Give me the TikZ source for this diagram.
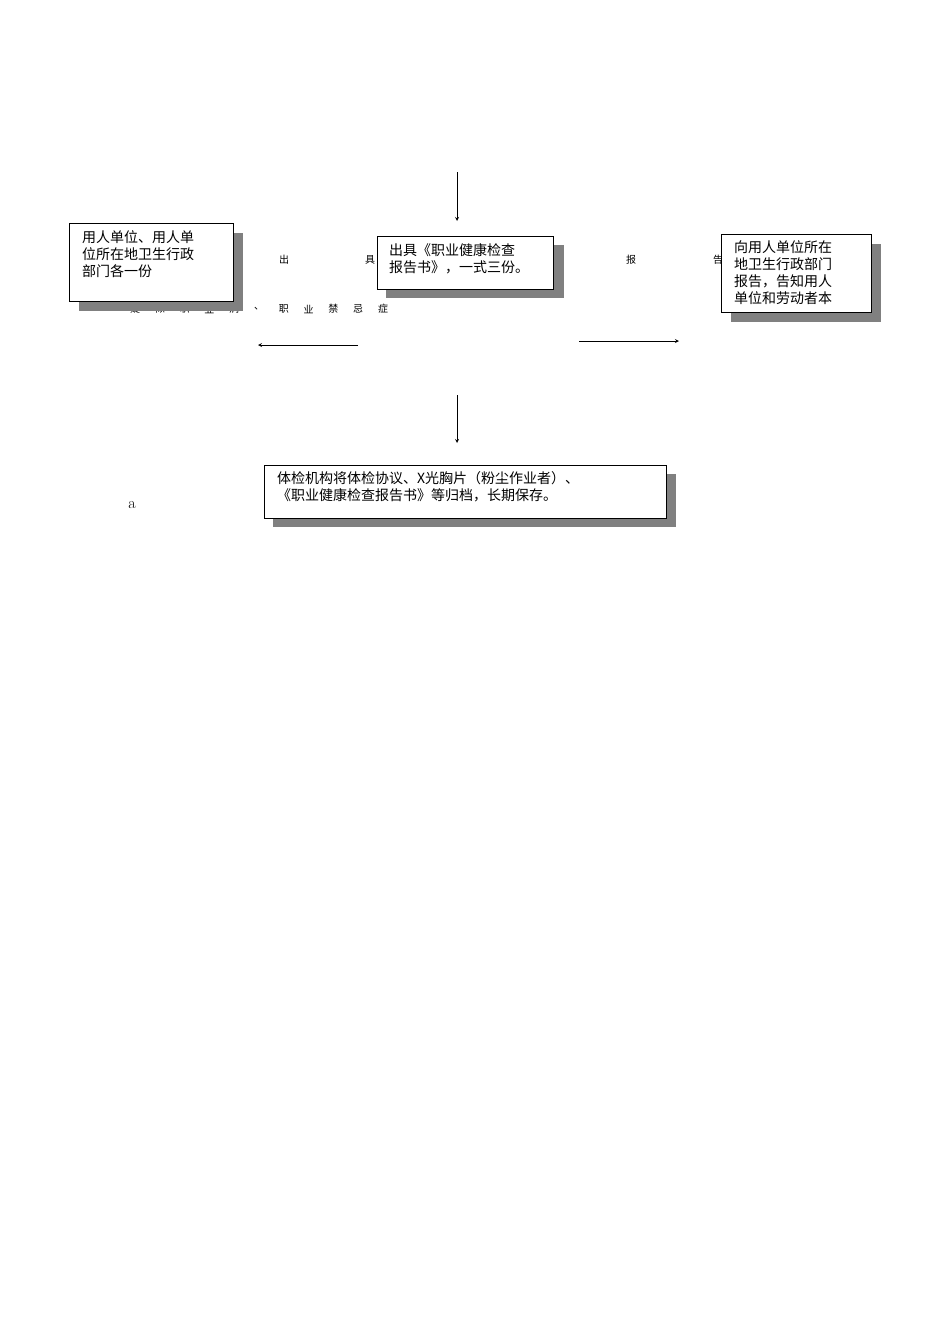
\documentclass[tikz,border=0pt]{standalone}
\usepackage{fontspec}
\newfontfamily\cjk{Noto Sans CJK SC}
\begin{document}
\begin{tikzpicture}[x=1pt,y=-1pt,
  shadowbox/.style={fill=black!50,draw=none},
  mainbox/.style={fill=white,draw=black,line width=0.8pt},
  boxtext/.style={font=\cjk\fontsize{14}{17}\selectfont,align=left,inner sep=0pt,anchor=north west},
  faint/.style={font=\cjk\fontsize{10}{12}\selectfont,inner sep=0pt},
  arr/.style={-stealth,line width=0.8pt}]
\useasboundingbox (0,0) rectangle (950,1344);
% scattered background text
\node[faint] (t1) at (284,260) {出};
\node[faint] (t2) at (370,260) {具};
\node[faint] (t3) at (631,260) {报};
\node[faint] (t4) at (718,260) {告};
\foreach \ch [count=\i from 0] in {疑,似,职,业,病,、,职,业,禁,忌,症}
  \node[faint] (r\i) at (135+24.8*\i,309) {\ch};
% left box
\fill[shadowbox] (79,233) rectangle (243,311);
\draw[mainbox] (69,223) rectangle (233,301);
\node[boxtext] (lt) at (82,230) {用人单位、用人单\\位所在地卫生行政\\部门各一份};
% center box
\fill[shadowbox] (386,245) rectangle (564,298);
\draw[mainbox] (377,236) rectangle (553,289);
\node[boxtext] (ct) at (389,243) {出具《职业健康检查\\报告书》，一式三份。};
% right box
\fill[shadowbox] (731,244) rectangle (881,322);
\draw[mainbox] (721,234) rectangle (871,312);
\begin{scope}
\clip (722,235) rectangle (870,308);
\node[boxtext] (rt) at (734,240) {向用人单位所在\\地卫生行政部门\\报告，告知用人\\单位和劳动者本};
\end{scope}
% bottom box
\fill[shadowbox] (273,474) rectangle (676,527);
\draw[mainbox] (264,465) rectangle (666,518);
\node[boxtext] (bt) at (277,471) {体检机构将体检协议、X光胸片（粉尘作业者）、\\《职业健康检查报告书》等归档，长期保存。};
% arrows
\coordinate (a1) at (457,172); \coordinate (a2) at (457,221);
\draw[arr] (a1) -- (a2);
\coordinate (b1) at (358,345); \coordinate (b2) at (258,345);
\draw[arr] (b1) -- (b2);
\coordinate (c1) at (579,341); \coordinate (c2) at (679,341);
\draw[arr] (c1) -- (c2);
\coordinate (d1) at (457,395); \coordinate (d2) at (457,443);
\draw[arr] (d1) -- (d2);
\node[font=\fontsize{16}{18}\selectfont] (a) at (132,505) {a};
\end{tikzpicture}
\end{document}
